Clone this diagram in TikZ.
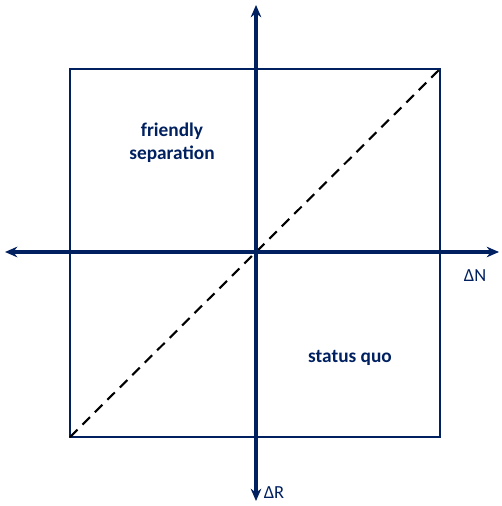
\documentclass[tikz,border=0pt]{standalone}
\usepackage{fontspec}
\setmainfont{Carlito}
\usetikzlibrary{positioning, calc, arrows.meta}
\definecolor{navy}{HTML}{002060}

\begin{document}
\begin{tikzpicture}[x=0.02cm, y=-0.02cm,
        frame/.style={draw=navy, line width=1.4pt},
        axis/.style={{Stealth[length=7pt,width=6pt]}-{Stealth[length=7pt,width=6pt]}, draw=navy, line width=2pt},
        diag/.style={draw=black, line width=1.2pt, dash pattern=on 6pt off 4pt},
        lbl/.style={text=navy, font=\fontsize{11}{13}\selectfont\bfseries, align=center},
        axlbl/.style={text=navy, font=\fontsize{10.5}{12}\selectfont, inner sep=0pt}
    ]
        \useasboundingbox (0,0) rectangle (502,506);
        % square corners
        \coordinate (sw) at (70,437);
        \coordinate (ne) at (440,69);
        \coordinate (left) at (5,252);
        \coordinate (right) at (499,252);
        \coordinate (top) at (256,5);
        \coordinate (bottom) at (256,501);

        \draw[frame] (sw) rectangle (ne);
        \draw[diag] (sw) -- (ne);
        \draw[axis] (left) -- (right);
        \draw[axis] (top) -- (bottom);

        \node[lbl] (friendly) at (172,143) {friendly\\separation};
        \node[lbl] (quo) at (350,358) {status quo};
        \node[axlbl] (dn) at (475,276) {ΔN};
        \node[axlbl] (dr) at (274,493) {ΔR};
    \end{tikzpicture}
\end{document}
